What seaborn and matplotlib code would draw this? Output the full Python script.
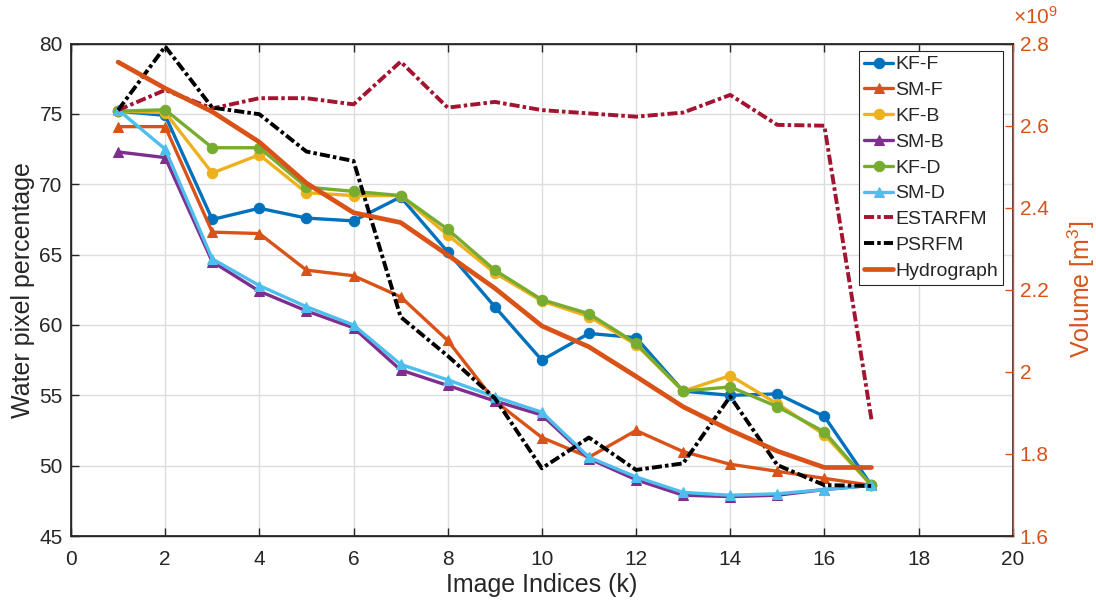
import numpy as np
import pandas as pd
import matplotlib
matplotlib.use("Agg")
import matplotlib.pyplot as plt
from matplotlib.ticker import ScalarFormatter, MultipleLocator
from matplotlib.transforms import ScaledTranslation
import seaborn as sns

# ---------------- data ----------------
k = list(range(1, 18))
kf_f = [75.2, 74.9, 67.5, 68.3, 67.6, 67.4, 69.1, 65.2, 61.3, 57.5, 59.4, 59.1, 55.3, 55.0, 55.1, 53.5, 48.6]
sm_f = [74.1, 74.1, 66.6, 66.5, 63.9, 63.5, 62.0, 58.9, 54.6, 52.0, 50.6, 52.5, 51.0, 50.1, 49.6, 49.1, 48.6]
kf_b = [75.2, 75.1, 70.8, 72.1, 69.4, 69.2, 69.2, 66.4, 63.7, 61.7, 60.6, 58.6, 55.3, 56.4, 54.4, 52.2, 48.6]
sm_b = [72.3, 71.9, 64.5, 62.4, 61.0, 59.8, 56.8, 55.7, 54.6, 53.6, 50.5, 49.0, 47.9, 47.8, 47.9, 48.3, 48.6]
kf_d = [75.2, 75.3, 72.6, 72.6, 69.8, 69.5, 69.2, 66.8, 63.9, 61.8, 60.8, 58.7, 55.3, 55.6, 54.2, 52.4, 48.6]
sm_d = [75.3, 72.5, 64.7, 62.8, 61.3, 60.0, 57.2, 56.1, 54.9, 53.8, 50.6, 49.2, 48.1, 47.9, 48.0, 48.3, 48.6]
# volumes in units of 1e9 m^3
estarfm = [2.638, 2.687, 2.642, 2.667, 2.667, 2.652, 2.756, 2.644, 2.658, 2.638, 2.630, 2.622, 2.632, 2.675, 2.602, 2.600, 1.884]
psrfm = [2.638, 2.793, 2.644, 2.628, 2.537, 2.514, 2.134, 2.039, 1.936, 1.765, 1.840, 1.761, 1.777, 1.940, 1.773, 1.724, 1.722]
hydro = [2.755, 2.691, 2.634, 2.560, 2.460, 2.388, 2.364, 2.285, 2.204, 2.112, 2.061, 1.989, 1.915, 1.858, 1.807, 1.767, 1.767]
vol_scale = 1e9

left_series = [
    ("KF-F", kf_f, "#0072BD", "o"),
    ("SM-F", sm_f, "#D95319", "^"),
    ("KF-B", kf_b, "#EDB120", "o"),
    ("SM-B", sm_b, "#7E2F8E", "^"),
    ("KF-D", kf_d, "#77AC30", "o"),
    ("SM-D", sm_d, "#4DBEEE", "^"),
]
right_series = [
    ("ESTARFM", estarfm, "#A2142F", (0, (2.6, 0.8, 0.9, 0.8)), 2.8),
    ("PSRFM", psrfm, "#000000", (0, (2.6, 0.8, 0.9, 0.8)), 2.8),
    ("Hydrograph", hydro, "#D95319", "-", 3.4),
]


class TrimFormatter(ScalarFormatter):
    def _set_format(self):
        self.format = "%g"


# ---------------- style ----------------
sns.set_theme(style="ticks")
plt.rcParams["font.family"] = ["Liberation Sans", "DejaVu Sans"]
plt.rcParams["axes.unicode_minus"] = False
plt.rcParams["mathtext.fontset"] = "custom"
plt.rcParams["mathtext.rm"] = "Liberation Sans"
plt.rcParams["mathtext.it"] = "Liberation Sans"

fig = plt.figure(figsize=(10.96, 6.06), dpi=100)
ax1 = fig.add_axes([0.0648, 0.1155, 0.8592, 0.8125])
ax2 = ax1.twinx()
orange = "#D95319"
spine_col = "#262626"

for name, vals, col, mk in left_series:
    df = pd.DataFrame({"k": k, "v": vals})
    sns.lineplot(data=df, x="k", y="v", ax=ax1, color=col, marker=mk,
                 markersize=7.5, markeredgecolor=col, linewidth=2.4, label=name,
                 legend=False)

for name, vals, col, ls, lw in right_series:
    df = pd.DataFrame({"k": k, "v": np.array(vals) * vol_scale})
    sns.lineplot(data=df, x="k", y="v", ax=ax2, color=col, linewidth=lw,
                 label=name, legend=False)
    ln = ax2.get_lines()[-1]
    ln.set_linestyle(ls)

# axes limits & ticks
ax1.set_xlim(0, 20)
ax1.set_ylim(45, 80)
ax1.xaxis.set_major_locator(MultipleLocator(2))
ax1.yaxis.set_major_locator(MultipleLocator(5))
ax2.set_ylim(1.6e9, 2.8e9)
ax2.yaxis.set_major_locator(MultipleLocator(0.2e9))
fmt = TrimFormatter(useMathText=True)
fmt.set_powerlimits((0, 0))
ax2.yaxis.set_major_formatter(fmt)

ax1.grid(True, color="#dddddd", linewidth=1.0)
ax1.set_axisbelow(True)

ax1.tick_params(axis="both", direction="in", labelsize=15, length=6,
                colors=spine_col, top=True, width=1)
ax1.tick_params(axis="x", pad=10)
ax1.tick_params(axis="y", pad=6)
ax2.tick_params(axis="y", direction="in", labelsize=15, length=6,
                colors=orange, width=1, pad=5)
off = ax2.yaxis.get_offset_text()
off.set_fontsize(15)
off.set_color(orange)
off.set_horizontalalignment("left")
off.set_transform(off.get_transform() + ScaledTranslation(0, 11 / 72, fig.dpi_scale_trans))

for s in ["left", "top", "bottom"]:
    ax1.spines[s].set_color(spine_col)
    ax1.spines[s].set_linewidth(1)
ax2.spines["right"].set_color(orange)
ax2.spines["right"].set_linewidth(1)
ax2.spines["top"].set_color(spine_col)
ax2.spines["left"].set_color(spine_col)
ax2.spines["bottom"].set_color(spine_col)

ax1.set_xlabel("Image Indices (k)", fontsize=18, color=spine_col, labelpad=3)
ax1.set_ylabel("Water pixel percentage", fontsize=18, color=spine_col, labelpad=3)
ax2.set_ylabel("Volume [m$^3$]", fontsize=18, color=orange, labelpad=12)

handles = ax1.get_lines() + ax2.get_lines()
handles = [h for h in handles if h.get_label() and not h.get_label().startswith("_")]
leg = ax2.legend(handles=handles, labels=[h.get_label() for h in handles],
                 loc="upper right", bbox_to_anchor=(0.9897, 0.985),
                 fontsize=14, frameon=True, fancybox=False, framealpha=1,
                 edgecolor=spine_col, handlelength=1.5, handletextpad=0.1,
                 labelspacing=0.42, borderpad=0.25, borderaxespad=0,
                 numpoints=1)
leg.get_frame().set_linewidth(0.8)

fig.savefig("out.png", dpi=100)
